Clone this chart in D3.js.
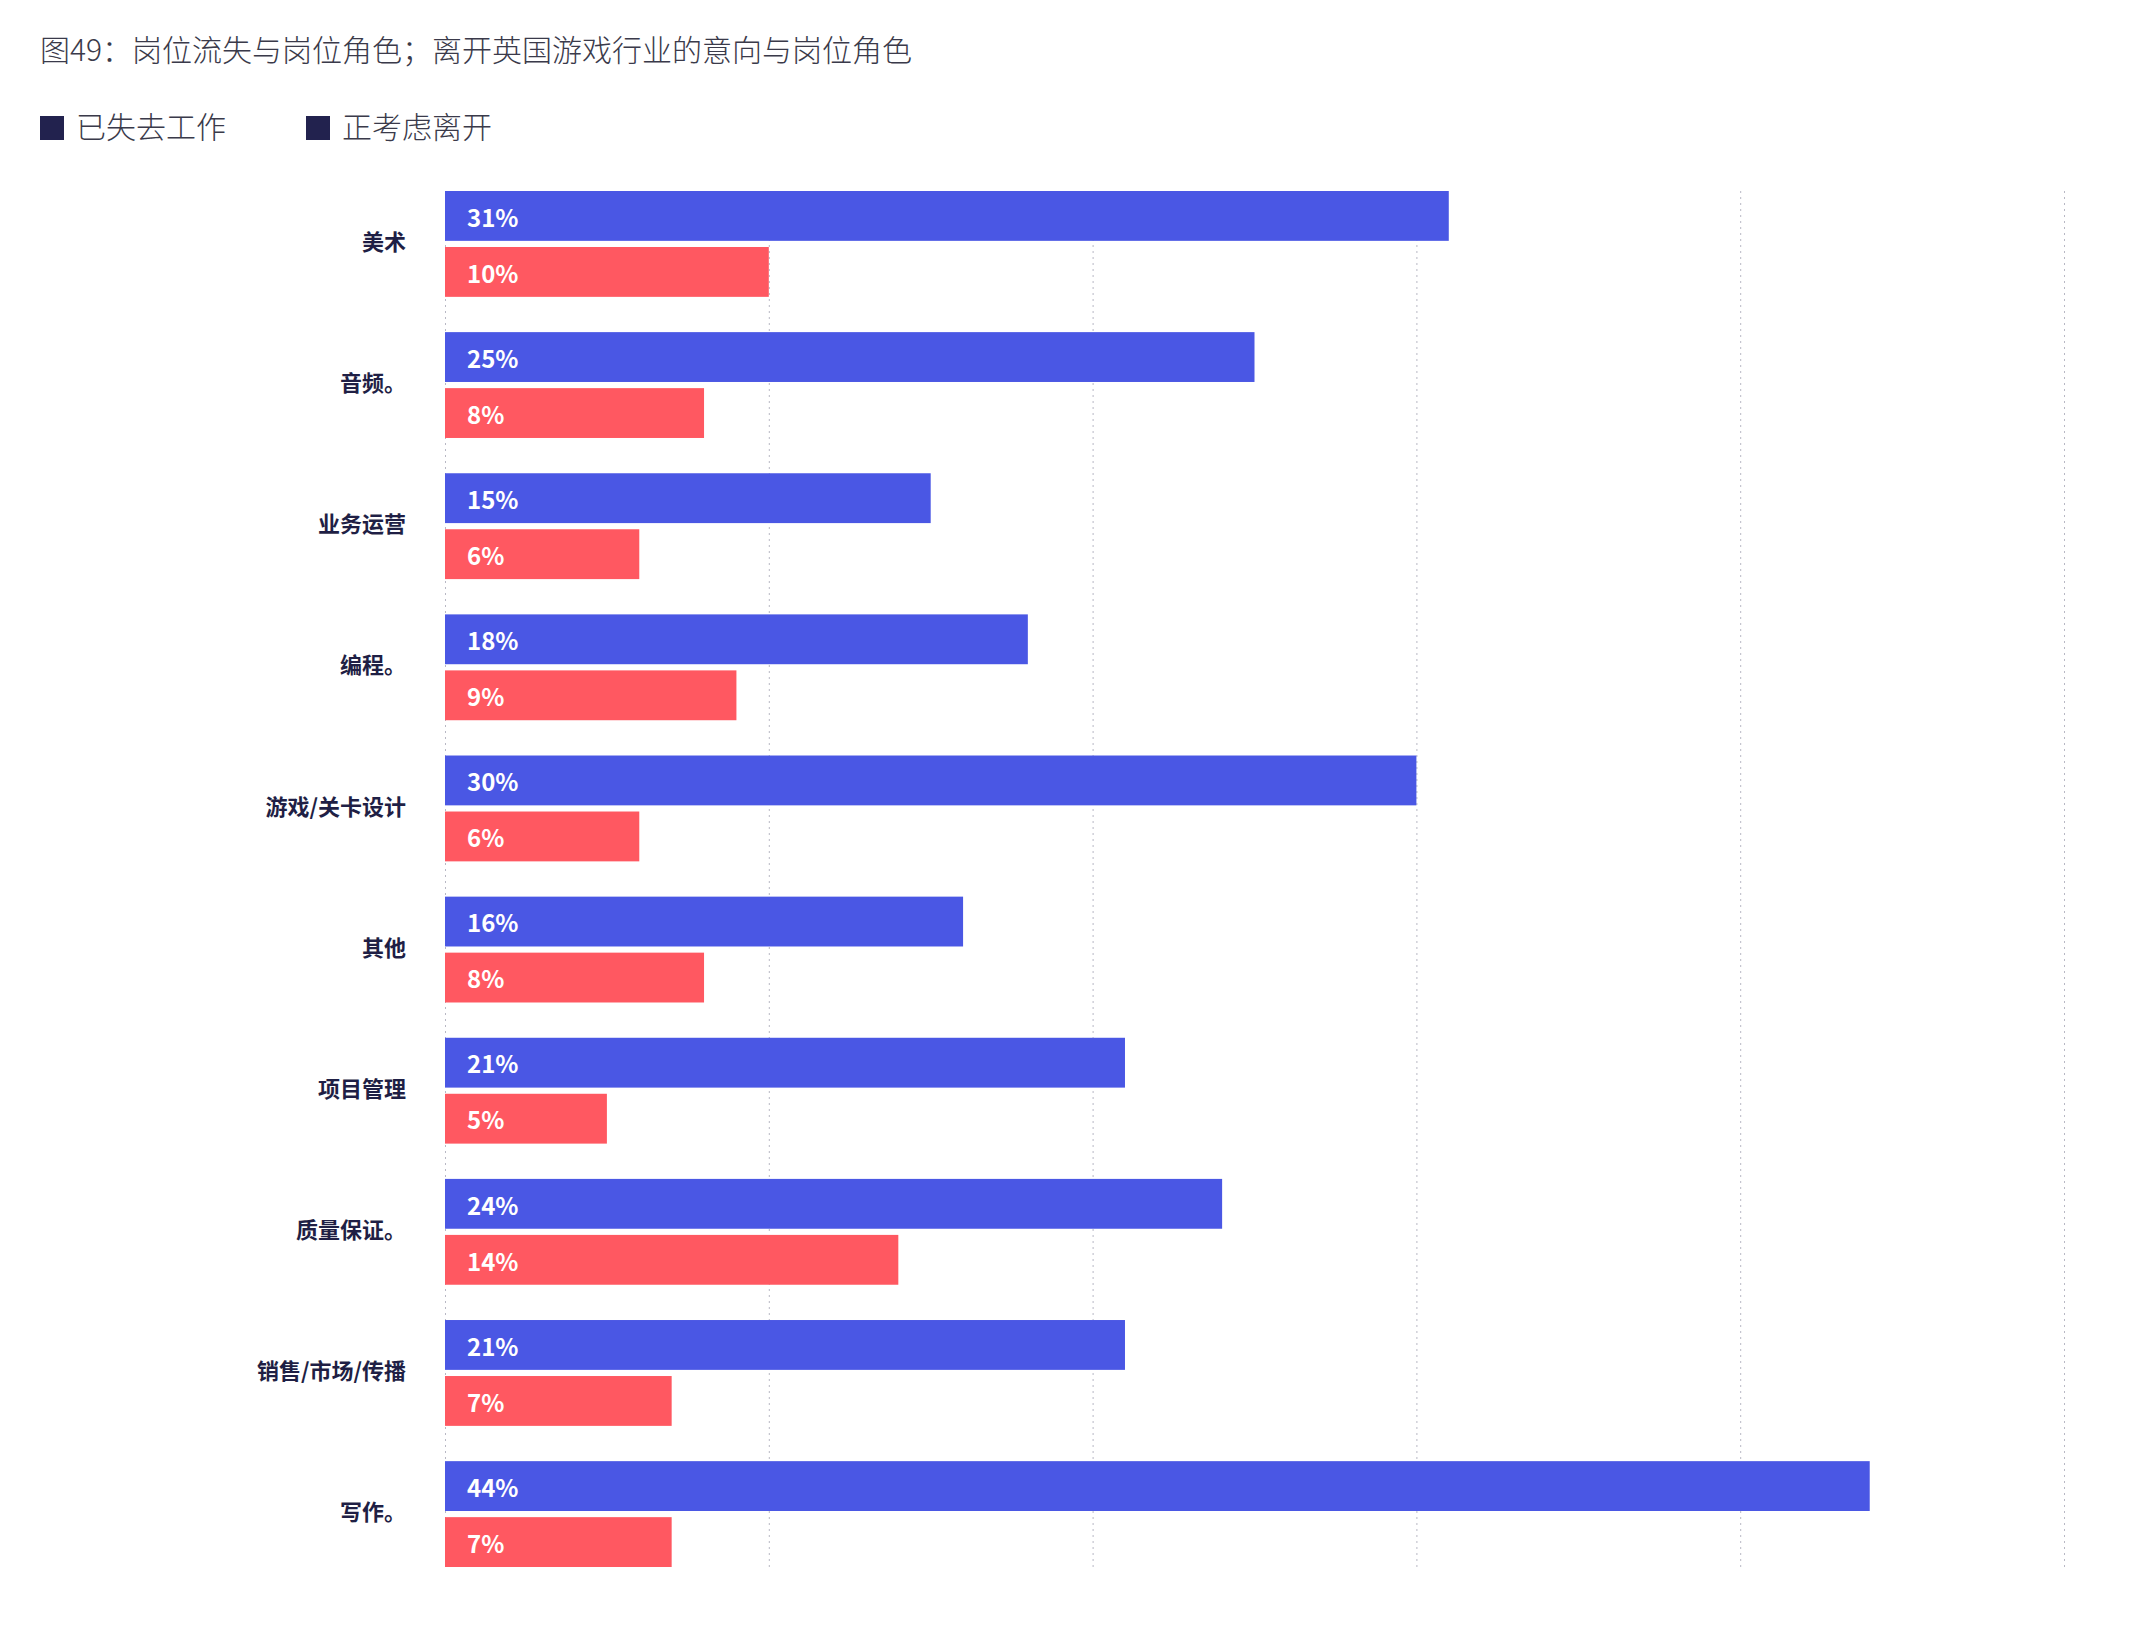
<!DOCTYPE html>
<html>
<head>
<meta charset="utf-8">
<script src="https://cdn.jsdelivr.net/npm/d3@7"></script>
<style>
  body { margin: 0; background: #fff; }
  svg { display: block; font-family: "Noto Sans CJK SC", "Noto Sans", sans-serif; }
</style>
</head>
<body>
<svg id="chart" width="2136" height="1652"></svg>
<script>
// data
var categories = ['美术', '音频。', '业务运营', '编程。', '游戏/关卡设计', '其他', '项目管理', '质量保证。', '销售/市场/传播', '写作。'];
var lost_job = [31, 25, 15, 18, 30, 16, 21, 24, 21, 44];
var thinking_leaving = [10, 8, 6, 9, 6, 8, 5, 14, 7, 7];
var series_names = ['已失去工作', '正考虑离开'];
var x_ticks = [0, 10, 20, 30, 40, 50];

var title_text = '图49：岗位流失与岗位角色；离开英国游戏行业的意向与岗位角色';

var svg = d3.select('#chart');

var x = d3.scaleLinear()
  .domain([0, 50])
  .range([445, 2064]);

var y0 = d3.scaleBand()
  .domain(categories)
  .range([191, 1567])
  .paddingInner(0.25)
  .paddingOuter(0);

var y1 = d3.scaleBand()
  .domain(series_names)
  .range([0, y0.bandwidth()])
  .paddingInner(0.11);

var colors = d3.scaleOrdinal()
  .domain(series_names)
  .range(['#4a57e4', '#ff5861']);

// title
svg.append('text')
  .attr('x', 40)
  .attr('y', 61)
  .attr('fill', '#3a3a4a')
  .style('font-size', '30px')
  .style('font-weight', 300)
  .text(title_text);

// legend (both swatches drawn dark navy as in the source)
var legend_x = [40, 306];
var legend = svg.append('g').selectAll('g')
  .data(series_names)
  .enter().append('g')
  .attr('transform', function(d, i){ return 'translate(' + legend_x[i] + ',116)'; });

legend.append('rect')
  .attr('width', 24)
  .attr('height', 24)
  .attr('fill', '#22224e');

legend.append('text')
  .attr('x', 36)
  .attr('y', 22)
  .attr('fill', '#3a3a4a')
  .style('font-size', '30px')
  .style('font-weight', 300)
  .text(function(d){ return d; });

// dotted gridlines
svg.append('g').selectAll('line')
  .data(x_ticks)
  .enter().append('line')
  .attr('x1', function(d){ return x(d) + 0.5; })
  .attr('x2', function(d){ return x(d) + 0.5; })
  .attr('y1', 191)
  .attr('y2', 1567)
  .attr('stroke', '#b8b8c4')
  .attr('stroke-width', 1)
  .attr('stroke-dasharray', '2,4');

// rows
var rows = categories.map(function(c, i){
  return {cat: c, values: [lost_job[i], thinking_leaving[i]]};
});

var groups = svg.append('g').selectAll('g')
  .data(rows)
  .enter().append('g')
  .attr('transform', function(d){ return 'translate(0,' + y0(d.cat) + ')'; });

groups.append('text')
  .attr('x', 406)
  .attr('y', y0.bandwidth() / 2)
  .attr('dy', '0.28em')
  .attr('text-anchor', 'end')
  .attr('fill', '#1f1f45')
  .style('font-size', '22px')
  .style('font-weight', 700)
  .text(function(d){ return d.cat; });

var bars = groups.selectAll('g.bar')
  .data(function(d){
    return d.values.map(function(v, j){ return {name: series_names[j], value: v}; });
  })
  .enter().append('g')
  .attr('class', 'bar');

bars.append('rect')
  .attr('x', x(0))
  .attr('y', function(d){ return y1(d.name); })
  .attr('width', function(d){ return x(d.value) - x(0); })
  .attr('height', y1.bandwidth())
  .attr('fill', function(d){ return colors(d.name); });

bars.append('text')
  .attr('x', x(0) + 22)
  .attr('y', function(d){ return y1(d.name) + y1.bandwidth() / 2; })
  .attr('dy', '0.45em')
  .attr('fill', '#ffffff')
  .style('font-size', '24px')
  .style('font-weight', 700)
  .text(function(d){ return d.value + '%'; });
</script>
</body>
</html>
